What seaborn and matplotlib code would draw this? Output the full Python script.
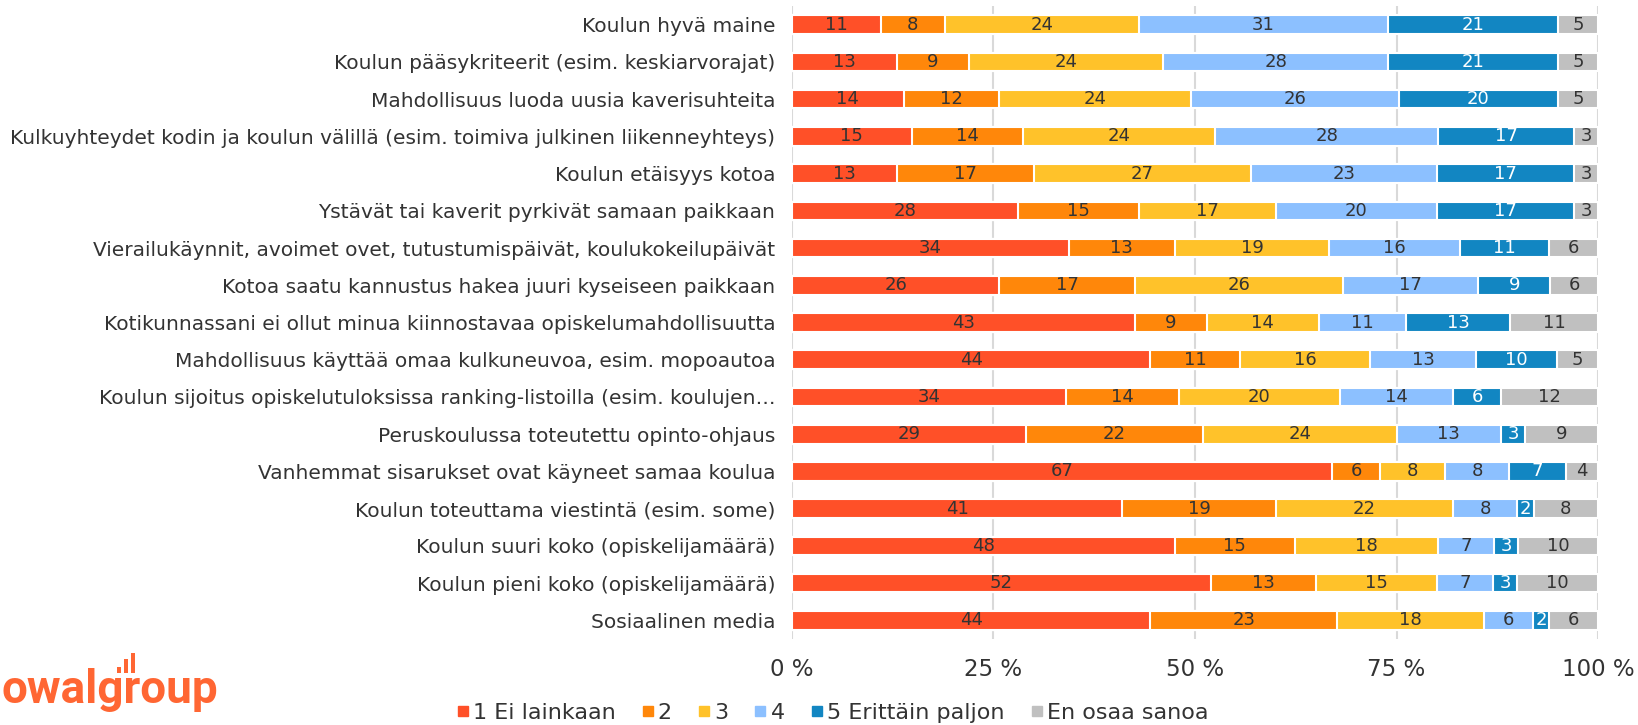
import numpy as np
import pandas as pd
import matplotlib
matplotlib.use("Agg")
import matplotlib.pyplot as plt
from matplotlib.lines import Line2D
from matplotlib.patches import Rectangle
import seaborn as sns

labels = [
    "Koulun hyvä maine",
    "Koulun pääsykriteerit (esim. keskiarvorajat)",
    "Mahdollisuus luoda uusia kaverisuhteita",
    "Kulkuyhteydet kodin ja koulun välillä (esim. toimiva julkinen liikenneyhteys)",
    "Koulun etäisyys kotoa",
    "Ystävät tai kaverit pyrkivät samaan paikkaan",
    "Vierailukäynnit, avoimet ovet, tutustumispäivät, koulukokeilupäivät",
    "Kotoa saatu kannustus hakea juuri kyseiseen paikkaan",
    "Kotikunnassani ei ollut minua kiinnostavaa opiskelumahdollisuutta",
    "Mahdollisuus käyttää omaa kulkuneuvoa, esim. mopoautoa",
    "Koulun sijoitus opiskelutuloksissa ranking-listoilla (esim. koulujen…",
    "Peruskoulussa toteutettu opinto-ohjaus",
    "Vanhemmat sisarukset ovat käyneet samaa koulua",
    "Koulun toteuttama viestintä (esim. some)",
    "Koulun suuri koko (opiskelijamäärä)",
    "Koulun pieni koko (opiskelijamäärä)",
    "Sosiaalinen media",
]

series_names = ["1 Ei lainkaan", "2", "3", "4", "5 Erittäin paljon", "En osaa sanoa"]

s1 = [11, 13, 14, 15, 13, 28, 34, 26, 43, 44, 34, 29, 67, 41, 48, 52, 44]
s2 = [8, 9, 12, 14, 17, 15, 13, 17, 9, 11, 14, 22, 6, 19, 15, 13, 23]
s3 = [24, 24, 24, 24, 27, 17, 19, 26, 14, 16, 20, 24, 8, 22, 18, 15, 18]
s4 = [31, 28, 26, 28, 23, 20, 16, 17, 11, 13, 14, 13, 8, 8, 7, 7, 6]
s5 = [21, 21, 20, 17, 17, 17, 11, 9, 13, 10, 6, 3, 7, 2, 3, 3, 2]
s6 = [5, 5, 5, 3, 3, 3, 6, 6, 11, 5, 12, 9, 4, 8, 10, 10, 6]

colors = ["#FF5028", "#FF870A", "#FFC22A", "#8CC0FF", "#1286C2", "#C0C0C0"]
text_colors = ["#333333", "#333333", "#333333", "#333333", "white", "#333333"]

x_ticks = [0, 25, 50, 75, 100]
x_ticklabels = ["0 %", "25 %", "50 %", "75 %", "100 %"]

vals = np.array([s1, s2, s3, s4, s5, s6], dtype=float).T
shares = vals / vals.sum(axis=1, keepdims=True) * 100
cum = shares.cumsum(axis=1)

df = pd.DataFrame(cum, columns=series_names)
df["label"] = labels

sns.set_style("white")
plt.rcParams["font.family"] = ["DejaVu Sans"]

fig = plt.figure(figsize=(16.38, 7.25), dpi=100)
ax = fig.add_axes([0.4835, 0.1186, 0.4921, 0.8731])

# stacked bars: draw cumulative totals from the longest down
for k in range(len(series_names) - 1, -1, -1):
    sns.barplot(data=df, x=series_names[k], y="label", orient="h",
                color=colors[k], saturation=1, width=0.5,
                edgecolor="white", linewidth=1.5, ax=ax, zorder=3)

for i in range(len(labels)):
    for k in range(len(series_names)):
        center = cum[i, k] - shares[i, k] / 2
        ax.text(center, i, f"{int(vals[i, k])}", ha="center", va="center",
                fontsize=13, color=text_colors[k], zorder=5)

ax.set_xlim(0, 100)
ax.set_ylim(len(labels) - 0.5, -0.5)
ax.set_xticks(x_ticks)
ax.set_xticklabels(x_ticklabels, fontsize=16.5, color="#333333")
ax.tick_params(axis="x", length=0, pad=14)
ax.tick_params(axis="y", length=0, pad=12, labelsize=14.5, labelcolor="#333333")
ax.set_xlabel("")
ax.set_ylabel("")
ax.xaxis.grid(True, color="#D9D9D9", linewidth=1.5)
ax.set_axisbelow(True)
for sp in ax.spines.values():
    sp.set_visible(False)

handles = [Line2D([0], [0], marker="s", linestyle="", markersize=6.5,
                  markerfacecolor=c, markeredgecolor=c) for c in colors]
fig.legend(handles, series_names, loc="center", bbox_to_anchor=(0.508, 0.017),
           ncol=6, frameon=False, fontsize=16, handlelength=0.6,
           handletextpad=0.15, columnspacing=1.15, labelcolor="#333333")

# logo
logo = "#FF6633"
fig.text(0.0012, 0.0303, "owalgroup", fontsize=33, fontweight="bold",
         family="Roboto", color=logo, ha="left", va="baseline")
for bx, bh in [(0.0714, 0.0083), (0.0757, 0.0193), (0.0800, 0.0276)]:
    fig.add_artist(Rectangle((bx, 0.0717), 0.0027, bh, transform=fig.transFigure,
                             color=logo, lw=0))

fig.savefig("out.png", dpi=100)
